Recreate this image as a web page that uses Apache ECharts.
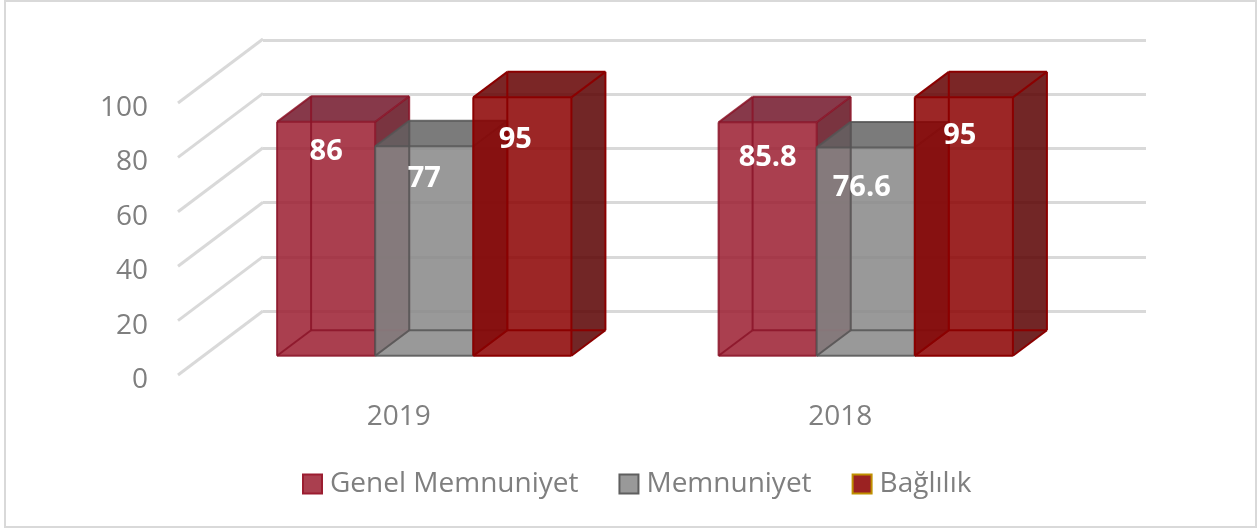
<!DOCTYPE html>
<html lang="en">
<head>
    <meta charset="utf-8"/>
    <script src="https://cdn.jsdelivr.net/npm/echarts@6/dist/echarts.min.js"></script>
</head>

<body style="height: 100%; margin: 0; background: #fff">
<div id="container" style="width: 1259px;height:528px;"></div>
<script type="text/javascript">
    var years = ['2019', '2018'];
    var genelMemnuniyet = [86, 85.8];
    var memnuniyet = [77, 76.6];
    var baglilik = [95, 95];
    var tickValues = [0, 20, 40, 60, 80, 100];

    var myChart = echarts.init(document.getElementById('container'));

    var textColor = '#7f7f7f';
    var fontName = '"Open Sans"';

    // depth of the walls and of the bars, in pixels
    var wallDx = 85, wallDy = -64;
    var barDx = 34, barDy = -25.5;

    // label nudge [x, y] per bar, they were moved by hand in the original
    var labelShift = [
        [[0, 30], [0, 32], [-7, 42]],
        [[0, 35], [-4, 40], [-4, 38]]
    ];

    function face(points, fill) {
        return {
            type: 'polygon',
            shape: {points: points},
            style: {fill: fill, stroke: null}
        };
    }

    function edge(a, b, stroke) {
        return {
            type: 'line',
            shape: {x1: a[0], y1: a[1], x2: b[0], y2: b[1]},
            style: {stroke: stroke, lineWidth: 2, fill: null}
        };
    }

    function barRenderer(serieIndex, colors) {
        return function (params, api) {
            var cat = api.value(0);
            var val = api.value(1);
            var band = api.size([1, 0])[0];
            var w = band / 4.5;
            var base = api.coord([cat, 0]);
            var top = api.coord([cat, val]);
            var lift = (wallDy - barDy) / 2;
            var x0 = base[0] + (wallDx - barDx) / 2 - 1.5 * w + serieIndex * w;
            var x1 = x0 + w;
            var yb = base[1] + lift;
            var yt = top[1] + lift;

            // front corners then back corners
            var a = [x0, yb], b = [x1, yb], c = [x1, yt], d = [x0, yt];
            var e = [x0 + barDx, yb + barDy], f = [x1 + barDx, yb + barDy];
            var g = [x1 + barDx, yt + barDy], h = [x0 + barDx, yt + barDy];

            var line = colors.line;
            return {
                type: 'group',
                children: [
                    face([b, f, g, c], colors.side),
                    face([d, c, g, h], colors.top),
                    face([a, b, c, d], colors.front),
                    edge(e, f, line), edge(e, h, line), edge(a, e, line), edge(b, f, line),
                    edge(h, g, line), edge(f, g, line), edge(c, g, line), edge(d, h, line),
                    edge(a, b, line), edge(b, c, line), edge(c, d, line), edge(d, a, line),
                    {
                        type: 'text',
                        x: (x0 + x1) / 2 + labelShift[cat][serieIndex][0],
                        y: yt + labelShift[cat][serieIndex][1],
                        style: {
                            text: String(val),
                            fill: '#fff',
                            font: 'bold 29px ' + fontName,
                            align: 'center',
                            verticalAlign: 'middle'
                        }
                    }
                ]
            };
        };
    }

    function barSeries(name, values, index, colors) {
        return {
            name: name,
            type: 'custom',
            coordinateSystem: 'cartesian2d',
            xAxisIndex: 0,
            yAxisIndex: 0,
            silent: true,
            z: 5 + index,
            itemStyle: {color: colors.legend},
            data: values.map(function (v, i) { return [i, v]; }),
            renderItem: barRenderer(index, colors)
        };
    }

    var crimson = {
        front: 'rgba(155,29,48,0.85)', side: 'rgba(99,16,30,0.85)', top: 'rgba(114,22,42,0.85)',
        line: 'rgba(139,20,40,0.85)', legend: '#aa3f4f'
    };
    var gray = {
        front: 'rgba(135,135,135,0.85)', side: 'rgba(90,90,90,0.85)', top: 'rgba(100,100,100,0.85)',
        line: 'rgba(85,85,85,0.85)', legend: '#999999'
    };
    var red = {
        front: 'rgba(139,0,0,0.85)', side: 'rgba(89,0,0,0.85)', top: 'rgba(100,0,0,0.85)',
        line: '#8b0000', legend: '#9b2222'
    };

    var option = {
        animation: false,
        backgroundColor: '#fff',
        textStyle: {fontFamily: fontName},
        graphic: [{
            type: 'rect',
            silent: true,
            shape: {x: 5, y: 1, width: 1251, height: 526},
            style: {fill: null, stroke: '#d9d9d9', lineWidth: 2}
        }],
        legend: {
            left: 302,
            top: 470,
            padding: 0,
            itemWidth: 19,
            itemHeight: 19,
            itemGap: 40,
            selectedMode: false,
            textStyle: {color: textColor, fontSize: 28, fontFamily: fontName, padding: [0, 0, 0, 3]},
            data: [
                {name: 'Genel Memnuniyet', icon: 'rect', itemStyle: {color: '#aa3f4f', borderColor: '#9b1d30', borderWidth: 2}},
                {name: 'Memnuniyet', icon: 'rect', itemStyle: {color: '#999999', borderColor: '#5f5f5f', borderWidth: 2}},
                {name: 'Bağlılık', icon: 'rect', itemStyle: {color: '#9b2222', borderColor: '#bf8f00', borderWidth: 2}}
            ]
        },
        grid: [
            // front plane: carries the labels
            {left: 178, width: 883, top: 103, height: 272},
            // back wall: carries the gridlines
            {left: 263, width: 883, top: 40, height: 271}
        ],
        xAxis: [
            {
                type: 'category',
                gridIndex: 0,
                data: years,
                axisLine: {show: false},
                axisTick: {show: false},
                axisLabel: {color: textColor, fontSize: 28, fontFamily: fontName, margin: 28}
            },
            {
                type: 'category',
                gridIndex: 1,
                data: years,
                show: false
            }
        ],
        yAxis: [
            {
                type: 'value',
                gridIndex: 0,
                min: 0,
                max: 100,
                interval: 20,
                axisLine: {show: false},
                axisTick: {show: false},
                splitLine: {show: false},
                // labels sit a little below the wall ends
                axisLabel: {
                    color: textColor, fontSize: 28, fontFamily: fontName, margin: 30,
                    verticalAlign: 'top', lineHeight: 10
                }
            },
            {
                type: 'value',
                gridIndex: 1,
                min: 0,
                max: 100,
                interval: 20,
                axisLine: {show: false},
                axisTick: {show: false},
                axisLabel: {show: false},
                splitLine: {show: true, lineStyle: {color: '#d9d9d9', width: 3}}
            }
        ],
        series: [
            {
                // left wall gridlines, one per tick
                type: 'custom',
                coordinateSystem: 'cartesian2d',
                xAxisIndex: 0,
                yAxisIndex: 0,
                silent: true,
                z: 1,
                data: tickValues.map(function (v) { return [0, v]; }),
                renderItem: function (params, api) {
                    var y = api.coord([0, api.value(1)])[1];
                    var x = params.coordSys.x;
                    return {
                        type: 'line',
                        shape: {x1: x, y1: y, x2: x + wallDx, y2: y + wallDy},
                        style: {stroke: '#d9d9d9', lineWidth: 3, fill: null}
                    };
                }
            },
            barSeries('Genel Memnuniyet', genelMemnuniyet, 0, crimson),
            barSeries('Memnuniyet', memnuniyet, 1, gray),
            barSeries('Bağlılık', baglilik, 2, red)
        ]
    };

    myChart.setOption(option);
</script>
</body>

</html>
